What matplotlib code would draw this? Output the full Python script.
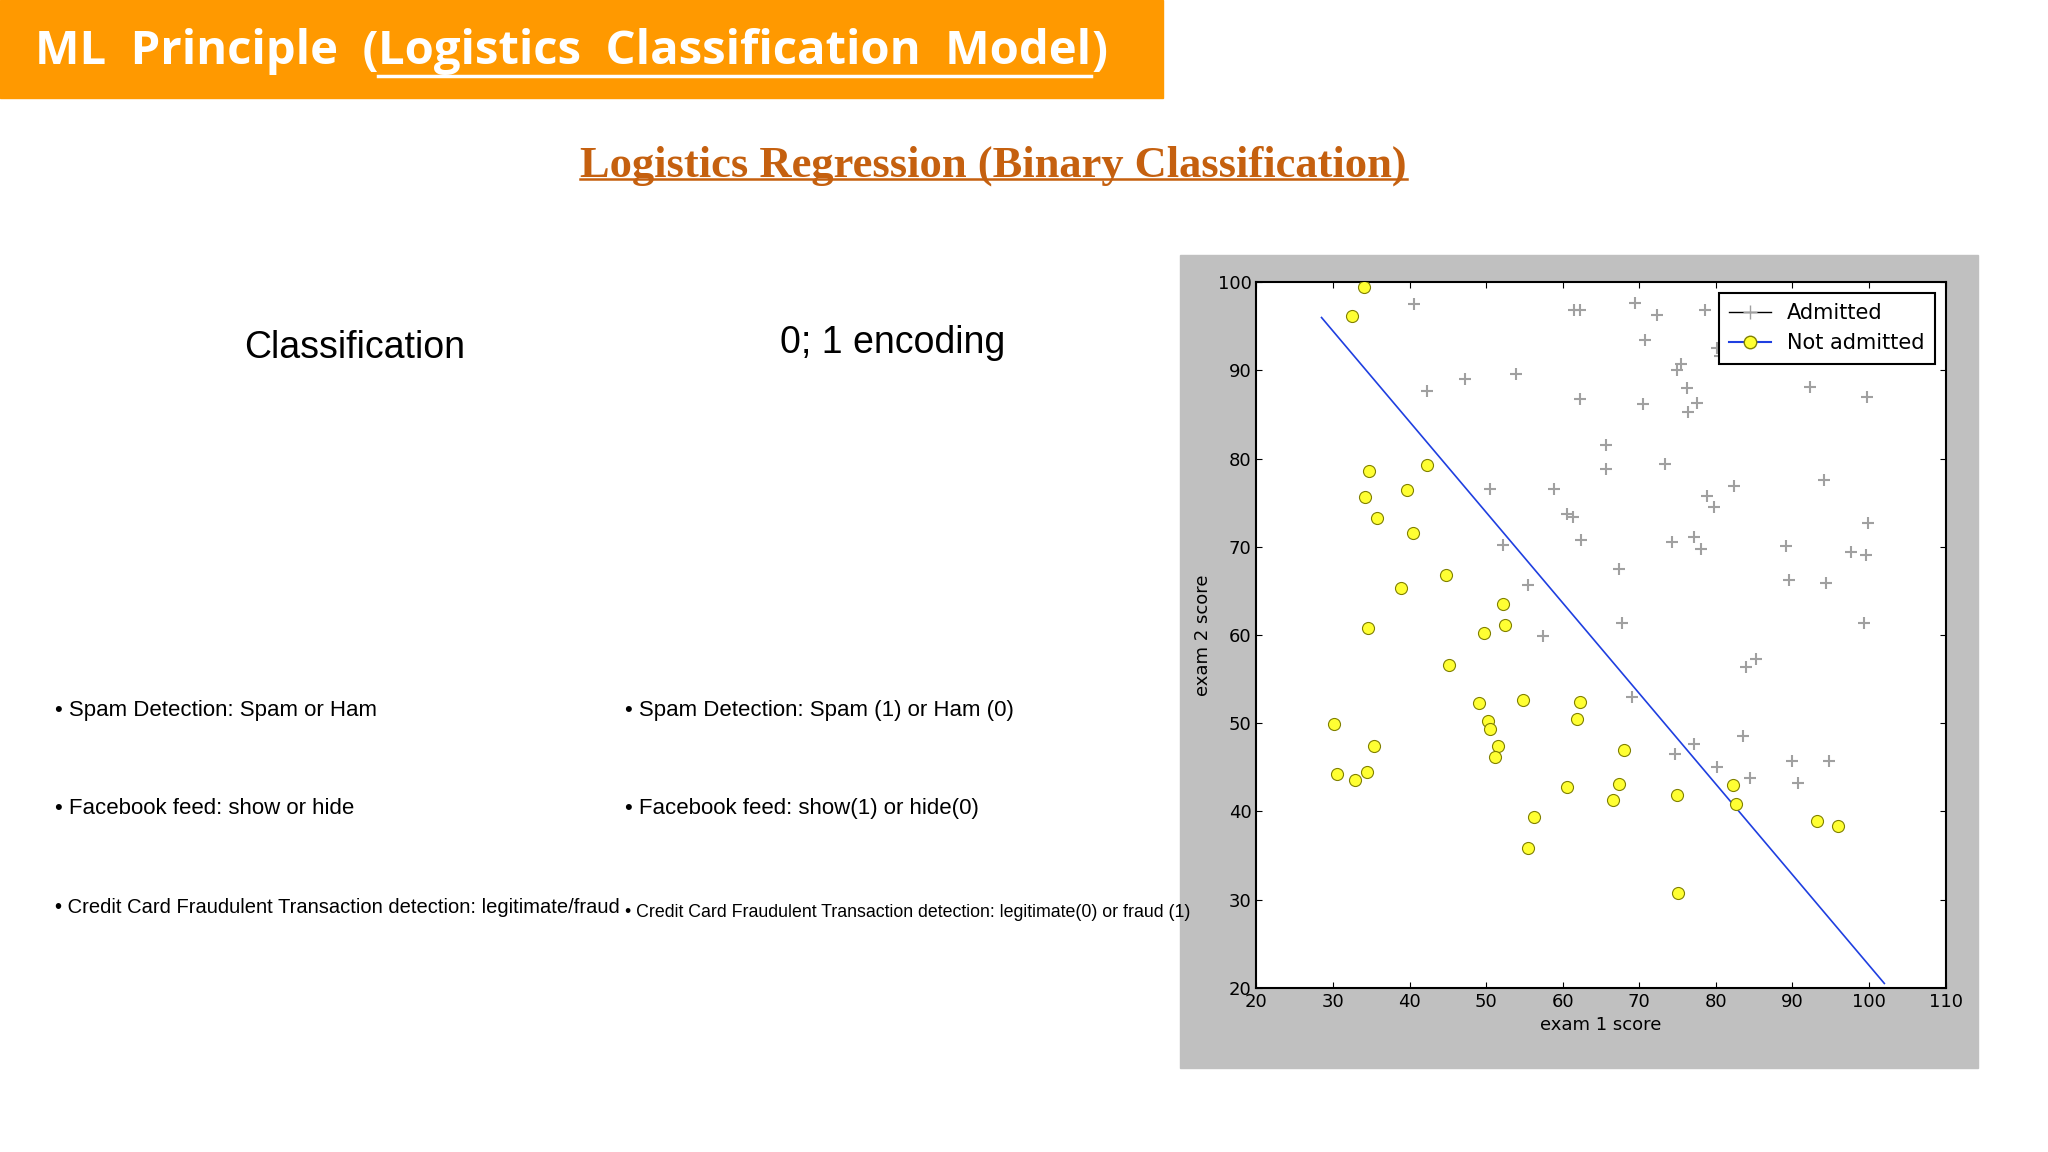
import matplotlib
matplotlib.use("Agg")
import matplotlib.pyplot as plt
from matplotlib.lines import Line2D
from matplotlib.patches import Rectangle

adm_x = [40.6,61.5,62.2,69.4,72.3,78.6,70.8,80.2,80.5,75.4,74.9,76.2,53.9,47.3,42.3,62.2,70.5,76.4,77.5,92.3,99.8,
         65.7,65.7,73.3,50.5,58.9,60.5,61.3,62.4,52.2,55.5,67.4,74.3,77.2,78.0,78.9,79.7,82.4,94.1,89.1,89.6,94.4,
         97.7,99.6,99.9,99.4,57.4,67.8,69.0,83.9,85.3,74.7,77.1,80.2,83.6,84.5,90.0,90.7,94.8]
adm_y = [97.5,96.8,96.8,97.7,96.3,96.8,93.4,92.5,91.6,90.7,90.1,88.0,89.6,89.0,87.7,86.8,86.2,85.3,86.3,88.1,87.0,
         81.5,78.8,79.4,76.6,76.6,73.7,73.4,70.8,70.2,65.7,67.5,70.5,71.1,69.7,75.8,74.5,76.9,77.6,70.1,66.2,65.9,
         69.4,69.1,72.7,61.4,59.9,61.4,53.0,56.4,57.3,46.5,47.7,45.0,48.5,43.8,45.7,43.2,45.7]
not_x = [34.1,32.5,34.7,34.2,35.8,39.7,42.3,40.4,44.7,38.9,52.2,52.4,49.7,34.6,45.2,49.1,54.8,62.3,61.9,50.3,50.5,
         51.6,51.2,30.1,35.3,30.5,32.9,34.4,68.0,60.5,67.3,66.6,74.9,82.2,82.6,56.3,55.5,75.0,93.2,96.0]
not_y = [99.5,96.2,78.6,75.6,73.3,76.4,79.3,71.6,66.8,65.3,63.5,61.1,60.2,60.8,56.6,52.3,52.6,52.4,50.5,50.2,49.3,
         47.4,46.2,49.9,47.4,44.2,43.6,44.5,47.0,42.8,43.1,41.3,41.9,43.0,40.9,39.4,35.8,30.8,38.9,38.3]
boundary_x = [28.5, 102.0]
boundary_y = [96.0, 20.5]
x_ticks = [20,30,40,50,60,70,80,90,100,110]
y_ticks = [20,30,40,50,60,70,80,90,100]

fig = plt.figure(figsize=(20.48, 11.52), dpi=100)
fig.patch.set_facecolor("white")
r = fig.canvas.get_renderer()
inv = fig.transFigure.inverted()

def ext(t):
    bb = t.get_window_extent(renderer=r)
    (x0, y0), (x1, y1) = inv.transform([[bb.x0, bb.y0], [bb.x1, bb.y1]])
    return x0, y0, x1, y1

# banner
fig.patches.append(Rectangle((0, 0.915), 0.568, 0.085, transform=fig.transFigure, color="#FF9900", zorder=0))
t1 = fig.text(0.017, 0.955, "ML  Principle  (", color="white", fontsize=34,
              fontweight="bold", va="center", ha="left", family="Open Sans")
x0, y0, x1, y1 = ext(t1)
t2 = fig.text(x1, 0.955, "Logistics  Classification  Model", color="white", fontsize=34,
              fontweight="bold", va="center", ha="left", family="Open Sans")
a0, b0, a1, b1 = ext(t2)
t3 = fig.text(a1, 0.955, ")", color="white", fontsize=34,
              fontweight="bold", va="center", ha="left", family="Open Sans")
fig.add_artist(Line2D([x1, a1], [0.934, 0.934], color="white", lw=2.5, transform=fig.transFigure))

# subtitle
ts = fig.text(0.485, 0.856, "Logistics Regression (Binary Classification)", color="#C5600F", fontsize=32,
              fontweight="bold", ha="center", va="center", family="Liberation Serif")
s0, sy0, s1, sy1 = ext(ts)
fig.add_artist(Line2D([s0, s1], [sy0 + 0.006, sy0 + 0.006], color="#C5600F", lw=1.8, transform=fig.transFigure))

fn = "Liberation Sans"
fig.text(0.173, 0.698, "Classification", fontsize=27, ha="center", va="center", family=fn)
fig.text(0.436, 0.702, "0; 1 encoding", fontsize=27, ha="center", va="center", family=fn)
left = ["Spam Detection: Spam or Ham", "Facebook feed: show or hide",
        "Credit Card Fraudulent Transaction detection: legitimate/fraud"]
right = ["Spam Detection: Spam (1) or Ham (0)", "Facebook feed: show(1) or hide(0)",
         "Credit Card Fraudulent Transaction detection: legitimate(0) or fraud (1)"]
for i, yy in enumerate([0.383, 0.298, 0.212]):
    fig.text(0.027, yy, "\u2022 " + left[i], fontsize=14.5 if i == 2 else 16, va="center", family=fn)
    fig.text(0.305, yy - (0.004 if i == 2 else 0), "\u2022 " + right[i],
             fontsize=12.8 if i == 2 else 16, va="center", family=fn)

# chart panel
fig.patches.append(Rectangle((0.576, 0.073), 0.390, 0.706, transform=fig.transFigure, color="#C0C0C0", zorder=-1))
ax = fig.add_axes([0.6135, 0.1425, 0.3365, 0.6125])
ax.set_zorder(5)
ax.scatter(adm_x, adm_y, marker="+", s=70, color="#A0A0A0", linewidths=1.5, zorder=2)
ax.scatter(not_x, not_y, marker="o", s=75, facecolor="#FFFF33", edgecolor="#808000", linewidths=0.8, zorder=3)
ax.plot(boundary_x, boundary_y, color="#1F3FE0", lw=1.2, zorder=1)
ax.set_xlim(20, 110); ax.set_ylim(20, 100)
ax.set_xticks(x_ticks); ax.set_yticks(y_ticks)
ax.tick_params(direction="in", labelsize=13, top=True, right=True, length=4)
for s in ax.spines.values():
    s.set_linewidth(1.5)
ax.set_xlabel("exam 1 score", fontsize=13)
ax.set_ylabel("exam 2 score", fontsize=13)
h1 = Line2D([], [], color="black", marker="+", markeredgecolor="#A0A0A0", markersize=10, lw=1)
h2 = Line2D([], [], color="#1F3FE0", marker="o", markerfacecolor="#FFFF33", markeredgecolor="#808000",
            markersize=9, lw=1.5)
leg = ax.legend([h1, h2], ["Admitted", "Not admitted"], loc="upper right", fontsize=15, fancybox=False,
                framealpha=1, edgecolor="black", borderpad=0.5, handlelength=2.0)
leg.get_frame().set_linewidth(1.5)

fig.savefig("out.png", dpi=100)
